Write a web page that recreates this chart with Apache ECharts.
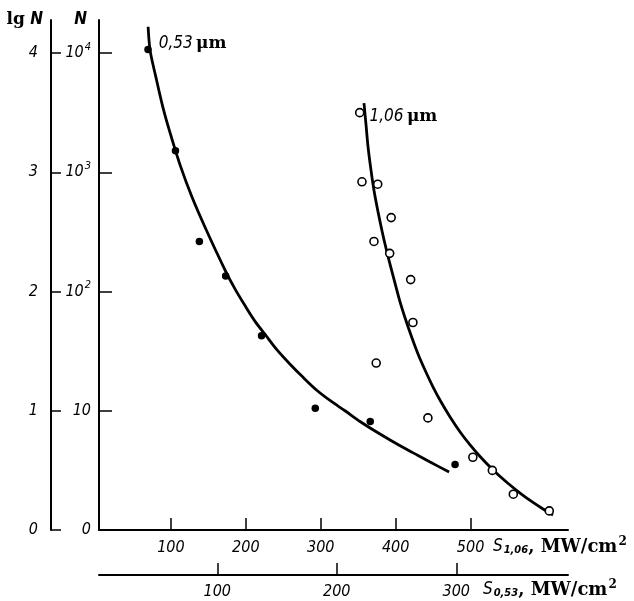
<!DOCTYPE html>
<html>
<head>
<meta charset="utf-8">
<script src="https://cdn.jsdelivr.net/npm/echarts@6/dist/echarts.min.js"></script>
<style>
html,body{margin:0;padding:0;background:#fff;}
#chart{width:634px;height:601px;}
</style>
</head>
<body>
<div id="chart"></div>
<script>
// ---- data ----
const lgTicks = [0, 1, 2, 3, 4];
const lgTickLabels = ['0', '1', '2', '3', '4'];
const nTickLabels = ['0', '10', '10{p|2}', '10{p|3}', '10{p|4}'];
const s106Ticks = [100, 200, 300, 400, 500];
const s053Ticks = [100, 200, 300];
const s106Min = 4, s106Max = 630;
const s053Min = 1, s053Max = 393.5;
const lgMax = 4.277;

// 0,53 µm : filled points (S_0.53, lg N)
const pts053 = [[42,4.03],[65,3.18],[85,2.42],[107,2.13],[137,1.63],[182,1.02],[228,0.91],[299,0.55]];
// 0,53 µm : drawn curve, read along its path
const curve053 = [[42.1,4.22],[43.8,4.02],[48.8,3.79],[54.6,3.54],[60.5,3.33],[68.9,3.06],[78.9,2.79],[90.6,2.52],[106.5,2.18],[114.9,2.02],[123.3,1.88],[131.6,1.75],[140.0,1.64],[150.0,1.51],[160.9,1.39],[171.8,1.28],[183.5,1.17],[195.2,1.08],[206.9,1.00],[219.5,0.91],[232.0,0.83],[244.6,0.755],[257.2,0.683],[268.0,0.625],[278.1,0.57],[294.0,0.486]];
// 1,06 µm : open points (S_1.06, lg N)
const pts106 = [[352,3.50],[355,2.92],[376,2.90],[394,2.62],[371,2.42],[392,2.32],[420,2.10],[423,1.74],[374,1.40],[443,0.94],[503,0.61],[529,0.50],[557,0.30],[605,0.16]];
// 1,06 µm : drawn curve
const curve106 = [[357.7,3.58],[360.4,3.40],[363.0,3.22],[367.0,3.02],[371.0,2.85],[376.4,2.67],[381.7,2.51],[387.0,2.365],[392.4,2.23],[399.1,2.07],[405.7,1.916],[413.7,1.757],[421.8,1.61],[429.8,1.476],[439.1,1.342],[449.9,1.199],[460.6,1.073],[472.6,0.948],[486.0,0.822],[499.3,0.713],[512.6,0.616],[530.0,0.503],[548.6,0.398],[566.0,0.31],[583.3,0.231],[596.7,0.176],[610.0,0.126]];

const label053 = '{a|0,53} {b|μm}';
const label106 = '{a|1,06} {b|μm}';

// ---- styling ----
const FIT = "'DejaVu Sans Condensed','Liberation Sans Narrow','DejaVu Sans',sans-serif";
const SERIF = "'DejaVu Serif','Liberation Serif',serif";
const tickLbl = {color:'#000', fontFamily:FIT, fontStyle:'italic', fontSize:16};
const axLine = {show:true, onZero:false, lineStyle:{color:'#000', width:2}};

const chart = echarts.init(document.getElementById('chart'));

function firstLabel(arr, text, dist, off) {
  return arr.map((v, i) => i === 0 ? {
    value: v,
    label: {
      show: true, position: 'right', distance: dist, offset: off,
      formatter: text, color: '#000', opacity: 1,
      rich: {
        a: {fontFamily: FIT, fontStyle: 'italic', fontSize: 17, color: '#000'},
        b: {fontFamily: SERIF, fontSize: 17, fontWeight: 'bold', color: '#000'}
      }
    }
  } : v);
}

const nameRich = {
  s: {fontFamily: FIT, fontStyle: 'italic', fontSize: 17, fill: '#000'},
  b: {fontFamily: FIT, fontStyle: 'italic', fontWeight: 'bold', fontSize: 11, fill: '#000', verticalAlign: 'top', padding: [9, 0, 0, 1]},
  t: {fontFamily: SERIF, fontSize: 18, fontWeight: 'bold', fill: '#000'},
  u: {fontFamily: SERIF, fontSize: 12, fontWeight: 'bold', fill: '#000', verticalAlign: 'bottom', padding: [0, 0, 10, 1]}
};

const option = {
  animation: false,
  backgroundColor: '#fff',
  grid: {left: 99, right: 66, top: 20, bottom: 71, containLabel: false},
  xAxis: [
    {
      type: 'value', position: 'bottom', min: s106Min, max: s106Max,
      axisLine: axLine,
      axisTick: {show: true, inside: true, length: 12, customValues: s106Ticks, lineStyle: {color: '#000', width: 1.5}},
      axisLabel: Object.assign({margin: 10, customValues: s106Ticks}, tickLbl),
      splitLine: {show: false}
    },
    {
      type: 'value', position: 'bottom', offset: 45, min: s053Min, max: s053Max,
      axisLine: axLine,
      axisTick: {show: true, inside: true, length: 12, customValues: s053Ticks, lineStyle: {color: '#000', width: 1.5}},
      axisLabel: Object.assign({margin: 9, customValues: s053Ticks}, tickLbl),
      splitLine: {show: false}
    }
  ],
  yAxis: [
    {
      type: 'value', position: 'left', offset: 48, min: 0, max: lgMax,
      name: '{l|lg}{n| N}', nameLocation: 'end', nameGap: 0,
      nameTextStyle: {
        align: 'right', verticalAlign: 'middle', padding: [0, 8, 0, 0],
        rich: {
          l: {fontFamily: SERIF, fontSize: 17, fontWeight: 'bold', color: '#000'},
          n: {fontFamily: FIT, fontStyle: 'italic', fontWeight: 'bold', fontSize: 17, color: '#000'}
        }
      },
      axisLine: axLine,
      axisTick: {show: true, inside: true, length: 10, customValues: lgTicks, lineStyle: {color: '#000', width: 1.5}},
      axisLabel: Object.assign({margin: 13, customValues: lgTicks,
        formatter: v => { const i = lgTicks.indexOf(v); return i >= 0 ? lgTickLabels[i] : ''; }}, tickLbl),
      splitLine: {show: false}
    },
    {
      type: 'value', position: 'left', offset: 0, min: 0, max: lgMax,
      name: 'N', nameLocation: 'end', nameGap: 0,
      nameTextStyle: {align: 'right', verticalAlign: 'middle', padding: [0, 12, 0, 0],
        fontFamily: FIT, fontStyle: 'italic', fontWeight: 'bold', fontSize: 17, color: '#000'},
      axisLine: axLine,
      axisTick: {show: true, inside: true, length: 13, customValues: lgTicks, lineStyle: {color: '#000', width: 1.5}},
      axisLabel: Object.assign({margin: 8, customValues: lgTicks,
        formatter: v => { const i = lgTicks.indexOf(v); return i >= 0 ? nTickLabels[i] : ''; },
        rich: {p: {fontFamily: FIT, fontStyle: 'italic', fontSize: 11, color: '#000', verticalAlign: 'bottom', padding: [0, 0, 12, 1]}}
      }, tickLbl),
      splitLine: {show: false}
    }
  ],
  graphic: [
    {type: 'text', x: 493, y: 547, style: {text: '{s|S}{b|1,06}{t|, MW/cm}{u|2}', align: 'left', verticalAlign: 'middle', rich: nameRich}},
    {type: 'text', x: 483, y: 590, style: {text: '{s|S}{b|0,53}{t|, MW/cm}{u|2}', align: 'left', verticalAlign: 'middle', rich: nameRich}}
  ],
  series: [
    {
      name: '0,53 μm curve', type: 'line', xAxisIndex: 1, yAxisIndex: 0,
      data: curve053, smooth: 0.3, showSymbol: false, symbol: 'none',
      lineStyle: {color: '#000', width: 2.8}, z: 2, silent: true
    },
    {
      name: '1,06 μm curve', type: 'line', xAxisIndex: 0, yAxisIndex: 0,
      data: curve106, smooth: 0.3, showSymbol: false, symbol: 'none',
      lineStyle: {color: '#000', width: 2.8}, z: 2, silent: true
    },
    {
      name: '0,53 μm', type: 'scatter', xAxisIndex: 1, yAxisIndex: 0,
      data: firstLabel(pts053, label053, 7, [0, -6]),
      symbol: 'circle', symbolSize: 7.5,
      itemStyle: {color: '#000', opacity: 1}, z: 3
    },
    {
      name: '1,06 μm', type: 'scatter', xAxisIndex: 0, yAxisIndex: 0,
      data: firstLabel(pts106, label106, 5, [0, 4]),
      symbol: 'circle', symbolSize: 8,
      itemStyle: {color: '#fff', borderColor: '#000', borderWidth: 1.6, opacity: 1}, z: 3
    }
  ]
};
chart.setOption(option);
</script>
</body>
</html>
